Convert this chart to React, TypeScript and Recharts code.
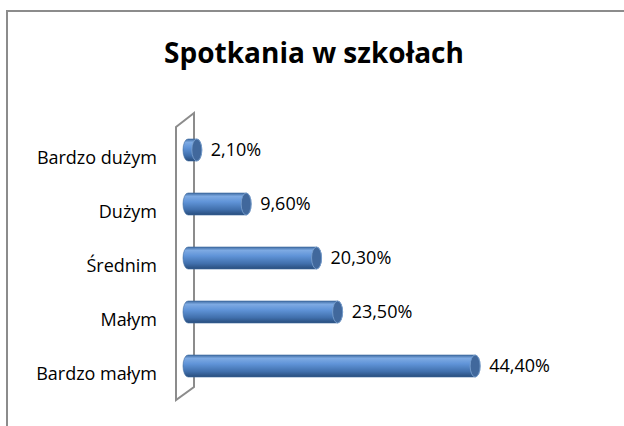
import { BarChart, Bar, XAxis, YAxis, LabelList } from "recharts";

const categories = ["Bardzo dużym", "Dużym", "Średnim", "Małym", "Bardzo małym"];
const values = [2.1, 9.6, 20.3, 23.5, 44.4];

const data = categories.map((name, i) => ({ name, value: values[i] }));

const W = 624;
const H = 426;
const MARGIN = { top: 123, right: 112, bottom: 33, left: 0 };
const AXIS_W = 183;
const FONT = "'Open Sans', sans-serif";

const fmt = (v: number) => `${v.toFixed(2).replace(".", ",")}%`;

// cylinder-ish bar: gradient body, rounded left end, darker elliptical cap on the right
function Cylinder(props: any) {
  const { x, y, width, height } = props;
  if (width == null || width <= 0) return null;
  const ry = height / 2;
  const rx = 5;
  const cy = y + ry;
  const end = x + width;
  const d = `M ${x + rx} ${y} L ${end} ${y} A ${rx} ${ry} 0 0 1 ${end} ${y + height} L ${x + rx} ${y + height} A ${rx} ${ry} 0 0 1 ${x + rx} ${y} Z`;
  return (
    <g>
      <path d={d} fill="url(#cyl)" stroke="#3d6a9f" strokeWidth={0.6} />
      <ellipse cx={end} cy={cy} rx={rx} ry={ry} fill="#41689c" stroke="#7ea3d1" strokeWidth={0.8} />
    </g>
  );
}

function Wall() {
  const ax = AXIS_W;
  const top = MARGIN.top;
  const bot = H - MARGIN.bottom;
  const fx = ax - 7;
  const bx = ax + 11;
  const pts = `${fx},${top + 4} ${bx},${top - 10} ${bx},${bot - 6} ${fx},${bot + 7}`;
  return (
    <svg width={W} height={H} style={{ position: "absolute", left: 0, top: 0 }}>
      <polygon points={pts} fill="none" stroke="#8c8c8c" strokeWidth={2} />
      <text x={314} y={63} textAnchor="middle" fontFamily={FONT} fontWeight={700} fontSize={28} fill="#000">
        Spotkania w szkołach
      </text>
    </svg>
  );
}

export default function App() {
  return (
    <div style={{ position: "absolute", left: 0, top: 0, width: W, height: H, overflow: "hidden", background: "#fff" }}>
      <div
        style={{
          position: "absolute",
          left: 6,
          top: 10,
          right: 0,
          bottom: 0,
          borderTop: "2px solid #8c8c8c",
          borderLeft: "2px solid #8c8c8c",
        }}
      />
      <Wall />
      <div style={{ position: "absolute", left: 0, top: 0 }}>
        <BarChart width={W} height={H} data={data} layout="vertical" margin={MARGIN}>
          <defs>
            <linearGradient id="cyl" x1="0" y1="0" x2="0" y2="1">
              <stop offset="0%" stopColor="#3e6ba2" />
              <stop offset="15%" stopColor="#7eaae3" />
              <stop offset="40%" stopColor="#6094d8" />
              <stop offset="75%" stopColor="#4170ad" />
              <stop offset="100%" stopColor="#284d7c" />
            </linearGradient>
          </defs>
          <XAxis type="number" domain={[0, 50]} hide />
          <YAxis
            type="category"
            dataKey="name"
            width={AXIS_W}
            axisLine={false}
            tickLine={false}
            tickSize={0}
            tickMargin={26}
            tick={{ fontFamily: FONT, fontSize: 18, fill: "#000", dy: 8 }}
            interval={0}
          />
          <Bar dataKey="value" barSize={22} shape={<Cylinder />} isAnimationActive={false}>
            <LabelList
              dataKey="value"
              position="right"
              offset={14}
              formatter={(v: any) => fmt(Number(v))}
              style={{ fontFamily: FONT, fontSize: 18, fill: "#000" }}
            />
          </Bar>
        </BarChart>
      </div>
    </div>
  );
}
